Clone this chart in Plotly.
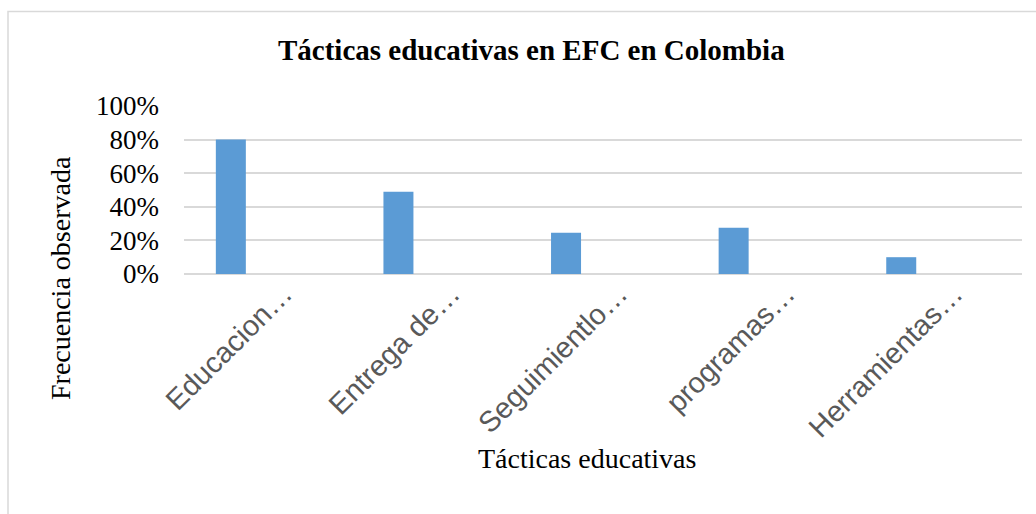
import plotly.graph_objects as go

categories = ["Educacion…", "Entrega de…", "Seguimientlo…", "programas…", "Herramientas…"]
values = [0.80, 0.49, 0.245, 0.275, 0.10]
y_ticks = [0, 0.2, 0.4, 0.6, 0.8, 1.0]
y_tick_labels = ["0%", "20%", "40%", "60%", "80%", "100%"]

title_text = "Tácticas educativas en EFC en Colombia"
x_title = "Tácticas educativas"
y_title = "Frecuencia observada"

W, H = 1036, 514
ML, MR, MT, MB = 184, 14, 106, 240
PW = W - ML - MR
PH = H - MT - MB


def px_x(p):
    return (p - ML) / PW


def px_y(p):
    return (H - MB - p) / PH


fig = go.Figure()
fig.add_trace(go.Bar(
    x=categories,
    y=values,
    width=0.179,
    offset=-0.31,
    marker=dict(color="#5b9bd5", line=dict(width=0)),
    hoverinfo="skip",
))

serif = "Liberation Serif, Times New Roman, serif"

fig.update_layout(
    width=W,
    height=H,
    margin=dict(l=ML, r=MR, t=MT, b=MB, autoexpand=False),
    paper_bgcolor="white",
    plot_bgcolor="white",
    showlegend=False,
    xaxis=dict(
        type="category",
        tickangle=-45,
        tickfont=dict(family="Liberation Sans, Arial, sans-serif", size=29, color="#595959"),
        showgrid=False,
        showline=False,
        ticks="",
        ticklabelshift=16,
        ticklabelstandoff=-4,
    ),
    yaxis=dict(
        range=[0, 1.0],
        tickvals=y_ticks,
        ticktext=y_tick_labels,
        tickfont=dict(family=serif, size=27, color="black"),
        showgrid=True,
        gridcolor="#d9d9d9",
        gridwidth=1.8,
        zeroline=True,
        zerolinecolor="#d9d9d9",
        zerolinewidth=1.8,
        ticks="",
        ticklabelstandoff=24,
    ),
    shapes=[dict(
        type="rect", xref="paper", yref="paper",
        x0=px_x(8), x1=px_x(1045), y0=px_y(11.5), y1=px_y(530),
        line=dict(color="#d9d9d9", width=1.5),
        fillcolor="rgba(0,0,0,0)", layer="below",
    )],
    annotations=[
        dict(text="<b>" + title_text + "</b>", xref="paper", yref="paper",
             x=px_x(531.5), y=px_y(50), xanchor="center", yanchor="middle",
             showarrow=False, font=dict(family=serif, size=29, color="black")),
        dict(text=x_title, xref="paper", yref="paper",
             x=px_x(587), y=px_y(458), xanchor="center", yanchor="middle",
             showarrow=False, font=dict(family=serif, size=28, color="black")),
        dict(text=y_title, xref="paper", yref="paper",
             x=px_x(60), y=px_y(278), xanchor="center", yanchor="middle",
             textangle=-90,
             showarrow=False, font=dict(family=serif, size=28, color="black")),
    ],
)

fig.write_html("out.html")
